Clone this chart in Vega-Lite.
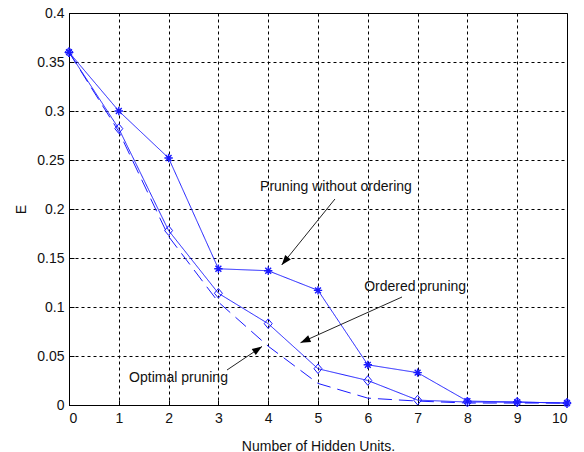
{
  "$schema": "https://vega.github.io/schema/vega-lite/v6.json",
  "autosize": "none",
  "width": 498,
  "height": 392,
  "padding": {"left": 69, "top": 13, "right": 17, "bottom": 47},
  "background": "white",
  "config": {
    "view": {"stroke": "black", "strokeWidth": 1},
    "font": "Liberation Sans",
    "axis": {
      "labelFont": "Liberation Sans",
      "titleFont": "Liberation Sans",
      "labelFontSize": 14,
      "titleFontSize": 14,
      "labelColor": "#111",
      "titleColor": "#111",
      "titleFontWeight": "normal",
      "domainColor": "black",
      "tickColor": "black",
      "gridColor": "black",
      "gridOpacity": 1,
      "gridDash": [3, 3],
      "gridWidth": 1,
      "tickSize": -5
    }
  },
  "datasets": {
    "curves": [
      {"n": 0, "E": 0.36, "s": "Pruning without ordering"},
      {"n": 1, "E": 0.300, "s": "Pruning without ordering"},
      {"n": 2, "E": 0.252, "s": "Pruning without ordering"},
      {"n": 3, "E": 0.139, "s": "Pruning without ordering"},
      {"n": 4, "E": 0.137, "s": "Pruning without ordering"},
      {"n": 5, "E": 0.117, "s": "Pruning without ordering"},
      {"n": 6, "E": 0.041, "s": "Pruning without ordering"},
      {"n": 7, "E": 0.033, "s": "Pruning without ordering"},
      {"n": 8, "E": 0.004, "s": "Pruning without ordering"},
      {"n": 9, "E": 0.003, "s": "Pruning without ordering"},
      {"n": 10, "E": 0.002, "s": "Pruning without ordering"},
      {"n": 0, "E": 0.36, "s": "Ordered pruning"},
      {"n": 1, "E": 0.282, "s": "Ordered pruning"},
      {"n": 2, "E": 0.178, "s": "Ordered pruning"},
      {"n": 3, "E": 0.114, "s": "Ordered pruning"},
      {"n": 4, "E": 0.083, "s": "Ordered pruning"},
      {"n": 5, "E": 0.037, "s": "Ordered pruning"},
      {"n": 6, "E": 0.025, "s": "Ordered pruning"},
      {"n": 7, "E": 0.005, "s": "Ordered pruning"},
      {"n": 8, "E": 0.003, "s": "Ordered pruning"},
      {"n": 9, "E": 0.003, "s": "Ordered pruning"},
      {"n": 10, "E": 0.002, "s": "Ordered pruning"},
      {"n": 0, "E": 0.36, "s": "Optimal pruning"},
      {"n": 1, "E": 0.279, "s": "Optimal pruning"},
      {"n": 2, "E": 0.172, "s": "Optimal pruning"},
      {"n": 3, "E": 0.105, "s": "Optimal pruning"},
      {"n": 4, "E": 0.060, "s": "Optimal pruning"},
      {"n": 5, "E": 0.022, "s": "Optimal pruning"},
      {"n": 6, "E": 0.007, "s": "Optimal pruning"},
      {"n": 7, "E": 0.004, "s": "Optimal pruning"},
      {"n": 8, "E": 0.002, "s": "Optimal pruning"},
      {"n": 9, "E": 0.002, "s": "Optimal pruning"},
      {"n": 10, "E": 0.002, "s": "Optimal pruning"}
    ],
    "notes": [
      {"label": "Pruning without ordering", "tx": 5.36, "ty": 0.2224, "x1": 5.341, "y1": 0.2102, "x2": 4.271, "y2": 0.1429},
      {"label": "Ordered pruning", "tx": 6.95, "ty": 0.1204, "x1": 6.687, "y1": 0.1102, "x2": 4.649, "y2": 0.0636},
      {"label": "Optimal pruning", "tx": 2.199, "ty": 0.0276, "x1": 3.173, "y1": 0.0357, "x2": 3.876, "y2": 0.0597}
    ]
  },
  "layer": [
    {
      "data": {"name": "curves"},
      "mark": {"type": "line", "color": "#1a1aff", "strokeWidth": 1},
      "encoding": {
        "x": {
          "field": "n", "type": "quantitative",
          "scale": {"domain": [0, 10], "nice": false, "zero": false},
          "axis": {"values": [0,1,2,3,4,5,6,7,8,9,10], "labelPadding": 11, "title": "Number of Hidden Units.", "titleY": 41, "titleBaseline": "middle", "titlePadding": 0}
        },
        "y": {
          "field": "E", "type": "quantitative",
          "scale": {"domain": [0, 0.4], "nice": false},
          "axis": {"values": [0, 0.05, 0.1, 0.15, 0.2, 0.25, 0.3, 0.35, 0.4], "format": "~g", "labelPadding": 10, "title": "E", "titleX": -48, "titleY": 196, "titleBaseline": "middle", "titleAngle": -90}
        },
        "detail": {"field": "s"},
        "strokeDash": {
          "field": "s", "type": "nominal",
          "scale": {"domain": ["Pruning without ordering", "Ordered pruning", "Optimal pruning"], "range": [[1, 0], [1, 0], [14, 7]]},
          "legend": null
        }
      }
    },
    {
      "data": {"name": "curves"},
      "transform": [{"filter": "datum.s === 'Ordered pruning'"}],
      "mark": {"type": "point", "shape": "M0,-1.2L1,0L0,1.2L-1,0Z", "filled": false, "color": "#1a1aff", "size": 64, "strokeWidth": 1, "opacity": 1},
      "encoding": {
        "x": {"field": "n", "type": "quantitative"},
        "y": {"field": "E", "type": "quantitative"}
      }
    },
    {
      "data": {"name": "curves"},
      "transform": [{"filter": "datum.s === 'Pruning without ordering'"}],
      "mark": {"type": "point", "shape": "M-1,0L1,0M0,-1L0,1M-0.7,-0.7L0.7,0.7M-0.7,0.7L0.7,-0.7", "filled": false, "color": "#1a1aff", "size": 70, "strokeWidth": 1.4, "opacity": 1},
      "encoding": {
        "x": {"field": "n", "type": "quantitative"},
        "y": {"field": "E", "type": "quantitative"}
      }
    },
    {
      "data": {"name": "notes"},
      "mark": {"type": "rule", "color": "#222", "strokeWidth": 1},
      "encoding": {
        "x": {"field": "x1", "type": "quantitative"},
        "y": {"field": "y1", "type": "quantitative"},
        "x2": {"field": "x2"},
        "y2": {"field": "y2"}
      }
    },
    {
      "data": {"name": "notes"},
      "transform": [{"filter": "datum.label === 'Pruning without ordering'"}],
      "mark": {"type": "point", "shape": "M0,0L0.36,1L-0.36,1Z", "filled": true, "color": "black", "size": 400, "angle": 219, "opacity": 1},
      "encoding": {
        "x": {"field": "x2", "type": "quantitative"},
        "y": {"field": "y2", "type": "quantitative"}
      }
    },
    {
      "data": {"name": "notes"},
      "transform": [{"filter": "datum.label === 'Ordered pruning'"}],
      "mark": {"type": "point", "shape": "M0,0L0.36,1L-0.36,1Z", "filled": true, "color": "black", "size": 400, "angle": 246, "opacity": 1},
      "encoding": {
        "x": {"field": "x2", "type": "quantitative"},
        "y": {"field": "y2", "type": "quantitative"}
      }
    },
    {
      "data": {"name": "notes"},
      "transform": [{"filter": "datum.label === 'Optimal pruning'"}],
      "mark": {"type": "point", "shape": "M0,0L0.36,1L-0.36,1Z", "filled": true, "color": "black", "size": 400, "angle": 56, "opacity": 1},
      "encoding": {
        "x": {"field": "x2", "type": "quantitative"},
        "y": {"field": "y2", "type": "quantitative"}
      }
    },
    {
      "data": {"name": "notes"},
      "mark": {"type": "text", "font": "Liberation Sans", "fontSize": 14, "color": "#111", "align": "center", "baseline": "middle"},
      "encoding": {
        "x": {"field": "tx", "type": "quantitative"},
        "y": {"field": "ty", "type": "quantitative"},
        "text": {"field": "label"}
      }
    }
  ]
}
